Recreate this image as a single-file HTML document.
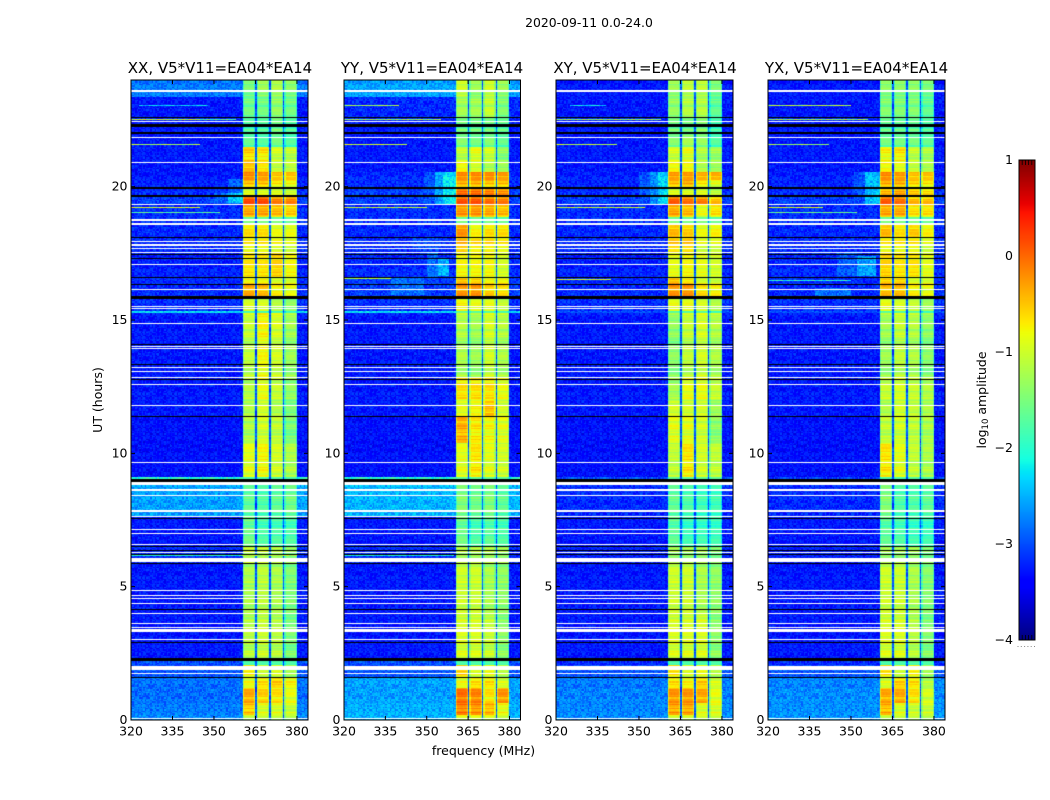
<!DOCTYPE html>
<html lang="en">
<head>
<meta charset="utf-8">
<title>2020-09-11 0.0-24.0</title>
<style>
html,body{margin:0;padding:0;background:#fff;width:1050px;height:800px;overflow:hidden}
#figure{position:relative;width:1050px;height:800px;font-family:"DejaVu Sans","Liberation Sans",sans-serif}
canvas{position:absolute;display:block}
svg{position:absolute;left:0;top:0}
text{font-family:"DejaVu Sans","Liberation Sans",sans-serif;fill:#000}
</style>
</head>
<body>
<div id="figure">
<canvas id="panel-0" style="left:131px;top:80px" width="177" height="640"></canvas>
<canvas id="panel-1" style="left:344px;top:80px" width="177" height="640"></canvas>
<canvas id="panel-2" style="left:556px;top:80px" width="177" height="640"></canvas>
<canvas id="panel-3" style="left:768px;top:80px" width="177" height="640"></canvas>
<canvas id="colorbar" style="left:1019px;top:160px" width="16" height="480"></canvas>
<svg id="overlay" width="1050" height="800" viewBox="0 0 1050 800">
  <text x="589" y="27" text-anchor="middle" font-size="12.4">2020-09-11 0.0-24.0</text>
  <text x="220" y="73" text-anchor="middle" font-size="15">XX, V5*V11=EA04*EA14</text>
  <text x="432" y="73" text-anchor="middle" font-size="15">YY, V5*V11=EA04*EA14</text>
  <text x="645" y="73" text-anchor="middle" font-size="15">XY, V5*V11=EA04*EA14</text>
  <text x="856.5" y="73" text-anchor="middle" font-size="15">YX, V5*V11=EA04*EA14</text>
  <text x="483.5" y="755" text-anchor="middle" font-size="12.5">frequency (MHz)</text>
  <text transform="translate(102 400) rotate(-90)" text-anchor="middle" font-size="12.5">UT (hours)</text>
  <text transform="translate(986 400) rotate(-90)" text-anchor="middle" font-size="12.5">log<tspan font-size="8.5" dy="2">10</tspan><tspan dy="-2"> amplitude</tspan></text>
</svg>
</div>
<script>
/* ---- axis data ---- */
const freqTicks = [320, 335, 350, 365, 380];
const hourTicks = [0, 5, 10, 15, 20];
const colorTicks = [1, 0, -1, -2, -3, -4];

/* start / end of each observing band, MHz; the gaps between them are notches */
const bandEdgesMHz = [[360.5, 365], [365.5, 370], [370.5, 375], [375.5, 380]];
const notchLevel = -3.0;
const bandShoulderDrop = 0.35;

/* time-block edges in UT hours, top of the panel downward */
const blockEdgesHours = [24, 23.36, 22.61, 21.94, 21.49, 20.93, 20.55, 20.25, 19.99, 19.65, 19.35, 18.83, 18.53, 18.11, 17.48, 16.61, 16.35, 15.86, 15.375, 15.26, 12.86, 12, 11.36, 10.39, 9.11, 8.93, 7.65, 6.49, 5.89, 4.01, 2.25, 2.03, 1.61, 1.2, 0.64, 0.19, 0];

/* log10 amplitude for each time block: [background, band1, band2, band3, band4] */
const xxLevels = [
[-2.8,-1.5,-1.3,-1.2,-1.4],[-3.3,-1.6,-1.6,-1.4,-1.6],[-3.3,-1.8,-1.8,-1.6,-1.8],[-3.3,-1.7,-1.8,-1.6,-1.8],
[-3.3,-0.6,-0.7,-1.0,-1.1],[-3.3,-0.5,-0.7,-1.1,-1.1],[-3.3,-0.2,-0.3,-0.5,-0.5],[-3.25,-0.5,-0.5,-0.7,-0.8],
[-3.2,-1.0,-1.0,-1.0,-1.1],[-3.1,0.1,0.1,-0.2,-0.2],[-3.2,-0.4,-0.4,-0.5,-0.6],[-3.2,-1.7,-1.7,-1.7,-1.8],
[-3.2,-0.7,-0.7,-0.9,-0.9],[-3.2,-0.7,-0.7,-0.8,-0.9],[-3.25,-0.7,-0.7,-0.6,-0.8],[-3.2,-0.7,-0.7,-0.9,-0.9],
[-3.2,-0.4,-0.5,-0.8,-0.9],[-3.2,-1.0,-1.0,-1.2,-1.4],[-2.3,-1.7,-1.7,-1.7,-1.8],[-3.3,-1.1,-0.8,-1.0,-1.3],
[-3.3,-1.2,-0.9,-1.1,-1.4],[-3.3,-1.2,-1.0,-1.2,-1.5],[-3.35,-1.2,-1.0,-1.1,-1.5],[-3.35,-0.9,-0.8,-1.0,-1.2],
[-2.0,-1.9,-1.9,-1.9,-1.9],[-2.6,-1.7,-1.8,-1.7,-1.6],[-3.3,-1.6,-1.8,-1.8,-1.8],[-3.2,-1.1,-1.1,-1.2,-1.4],
[-3.3,-1.25,-1.15,-1.25,-1.5],[-3.3,-1.15,-1.05,-1.15,-1.5],[-3.0,-1.9,-1.9,-1.9,-1.9],[-3.0,-0.8,-1.1,-1.0,-1.3],
[-2.85,-0.9,-0.7,-0.6,-0.8],[-2.85,-0.4,-0.6,-0.7,-0.9],[-2.8,-0.5,-0.9,-0.9,-1.0],[-2.7,-1.1,-1.1,-1.1,-1.2]];

const yyLevels = [
[-2.6,-1.0,-1.3,-1.0,-1.3],[-3.2,-1.3,-1.3,-1.1,-1.5],[-3.3,-1.6,-1.6,-1.6,-1.7],[-3.3,-1.5,-1.6,-1.5,-1.7],
[-3.3,-1.1,-0.9,-1.0,-1.4],[-3.3,-0.8,-1.0,-1.2,-1.3],[-3.2,-0.2,-0.2,-0.2,-0.3],[-3.2,-0.4,-0.4,-0.5,-0.5],
[-3.1,-0.1,-0.1,-0.2,-0.3],[-3.1,0.05,0.05,-0.1,-0.15],[-3.2,-0.3,-0.3,-0.4,-0.5],[-3.2,-1.7,-1.7,-1.7,-1.8],
[-3.2,-0.3,-0.8,-0.7,-0.7],[-3.2,-0.4,-0.6,-0.6,-0.7],[-3.2,-0.8,-0.8,-0.8,-1.0],[-3.1,-0.4,-0.5,-0.7,-0.7],
[-3.1,-0.3,-0.3,-0.6,-0.7],[-3.2,-0.8,-0.9,-0.9,-1.1],[-2.3,-1.5,-1.6,-1.6,-1.7],[-3.3,-1.2,-1.3,-1.0,-1.2],
[-3.3,-0.7,-0.7,-0.7,-0.9],[-3.3,-0.9,-0.8,-0.5,-1.0],[-3.35,-0.4,-0.7,-0.8,-0.9],[-3.35,-0.9,-0.7,-0.9,-1.0],
[-2.0,-1.8,-1.8,-1.8,-1.8],[-2.5,-1.5,-1.6,-1.5,-1.7],[-3.3,-1.6,-1.8,-1.7,-1.8],[-3.2,-1.2,-1.2,-1.2,-1.3],
[-3.3,-1.05,-1.05,-1.25,-1.4],[-3.3,-0.95,-0.95,-1.05,-1.4],[-3.0,-1.9,-1.9,-1.9,-1.9],[-3.0,-0.6,-1.0,-0.9,-1.2],
[-2.6,-0.9,-0.7,-0.7,-1.0],[-2.6,-0.1,-0.2,-0.7,-0.3],[-2.55,-0.1,-0.2,-0.4,-0.8],[-2.5,-0.9,-0.9,-0.9,-1.1]];

const xyLevels = [
[-3.3,-1.3,-1.1,-1.1,-1.5],[-3.3,-1.4,-1.2,-1.2,-1.7],[-3.3,-1.6,-1.6,-1.5,-1.9],[-3.3,-1.5,-1.3,-1.4,-1.8],
[-3.3,-1.0,-0.9,-1.2,-1.3],[-3.3,-0.8,-0.8,-1.2,-1.3],[-3.25,-0.3,-0.3,-0.4,-0.4],[-3.25,-0.5,-0.4,-0.7,-0.9],
[-3.2,-1.0,-1.0,-1.0,-1.2],[-3.1,0,-0.1,-0.2,-0.5],[-3.2,-0.4,-0.5,-0.9,-0.7],[-3.2,-1.7,-1.7,-1.7,-1.8],
[-3.2,-0.5,-0.6,-0.9,-0.8],[-3.2,-0.5,-0.5,-0.9,-0.9],[-3.25,-0.9,-0.8,-0.9,-1.0],[-3.2,-0.4,-0.6,-0.9,-1.0],
[-3.2,-0.3,-0.3,-0.7,-0.8],[-3.2,-0.9,-0.9,-1.0,-1.2],[-3.0,-1.6,-1.6,-1.6,-1.8],[-3.3,-1.4,-1.1,-1.0,-1.2],
[-3.3,-1.3,-0.9,-0.9,-1.1],[-3.3,-1.0,-1.0,-1.0,-1.3],[-3.35,-0.9,-0.9,-1.0,-1.4],[-3.35,-1.1,-0.7,-1.0,-1.1],
[-3.0,-1.8,-1.8,-1.8,-1.8],[-3.2,-1.7,-1.8,-1.9,-1.9],[-3.3,-1.7,-1.9,-1.9,-1.9],[-3.25,-1.3,-1.3,-1.3,-1.5],
[-3.3,-1.05,-1.05,-1.25,-1.4],[-3.3,-0.95,-0.95,-0.95,-1.4],[-3.2,-1.9,-1.9,-1.9,-1.9],[-3.0,-0.7,-1.0,-0.9,-1.2],
[-2.8,-0.7,-0.8,-0.6,-1.0],[-2.75,-0.3,-0.3,-0.4,-0.9],[-2.75,-0.3,-0.3,-0.9,-0.9],[-2.7,-1.0,-1.0,-1.0,-1.1]];

const yxLevels = [
[-3.3,-1.4,-1.4,-1.4,-1.5],[-3.3,-1.5,-1.5,-1.5,-1.7],[-3.3,-1.7,-1.7,-1.7,-1.8],[-3.3,-1.6,-1.6,-1.6,-1.7],
[-3.3,-0.8,-0.7,-1.1,-1.2],[-3.3,-0.8,-0.9,-1.1,-1.2],[-3.25,-0.2,-0.3,-0.5,-0.5],[-3.25,-0.4,-0.4,-0.6,-0.7],
[-3.2,-0.5,-0.4,-0.6,-0.7],[-3.1,0,-0.1,-0.5,-0.5],[-3.2,-0.4,-0.4,-0.7,-0.7],[-3.2,-1.7,-1.7,-1.7,-1.8],
[-3.2,-0.5,-0.7,-0.6,-0.8],[-3.2,-0.7,-0.7,-0.7,-0.9],[-3.2,-0.6,-0.7,-0.7,-0.9],[-3.2,-0.5,-0.5,-0.9,-0.9],
[-3.2,-0.5,-0.5,-0.8,-0.9],[-3.2,-0.9,-1.0,-1.1,-1.3],[-3.0,-1.6,-1.6,-1.6,-1.8],[-3.3,-1.3,-1.1,-1.2,-1.4],
[-3.3,-1.1,-1.0,-1.1,-1.2],[-3.3,-1.2,-1.0,-1.1,-1.2],[-3.35,-1.1,-1.0,-1.1,-1.2],[-3.35,-0.7,-0.9,-1.1,-1.2],
[-3.1,-1.9,-1.9,-1.9,-1.9],[-3.2,-1.5,-1.8,-1.8,-1.7],[-3.3,-1.7,-1.8,-1.9,-1.9],[-3.25,-1.3,-1.3,-1.3,-1.5],
[-3.3,-1.05,-1.05,-1.25,-1.45],[-3.3,-0.95,-0.95,-1.15,-1.45],[-3.2,-1.9,-1.9,-1.9,-1.9],[-3.0,-0.7,-1.1,-0.8,-1.3],
[-2.75,-1.0,-0.6,-0.7,-1.2],[-2.7,-0.4,-0.4,-0.7,-1.0],[-2.7,-0.4,-0.9,-1.0,-1.0],[-2.65,-1.1,-1.1,-1.1,-1.2]];

/* diffuse emission: [hour from, hour to, MHz from, MHz to, log10 amplitude] */
const xxBlobs = [[19.4, 19.75, 350, 355, -2.9], [19.4, 19.75, 355, 360.5, -2.4], [19.35, 20.3, 355, 360.5, -2.9]];
const yyBlobs = [[19.35, 20.55, 349, 353, -3.0], [19.35, 20.55, 353, 356, -2.6], [19.35, 20.55, 356, 360.5, -2.25], [17.6, 18.1, 345, 355, -3.05], [16.6, 17.5, 350, 354, -2.85], [16.65, 17.3, 354, 358, -2.5], [15.95, 16.6, 337, 349, -2.85]];
const xyBlobs = [[19.35, 20.55, 350, 354, -3.0], [19.35, 20.55, 354, 357, -2.7], [19.35, 20.55, 357, 360.5, -2.35]];
const yxBlobs = [[19.35, 20.55, 351, 355, -3.0], [19.35, 20.55, 355, 360.5, -2.45], [16.65, 17.5, 345, 352, -2.95], [16.65, 17.4, 352, 359, -2.6], [15.85, 16.2, 337, 350, -2.85]];

/* narrow-band interference: [hour, MHz from, MHz to, log10 amplitude] */
const xxRfi = [[23.06, 323, 348, -2.3], [22.54, 320, 345, -1.0], [22.54, 345, 358, -1.7], [21.6, 320, 345, -1.2], [19.24, 320, 345, -1.0], [19.05, 320, 352, -1.7], [6.2, 320, 360, -2.1], [6.19, 360, 380, -1.2]];
const yyRfi = [[23.06, 320, 340, -1.2], [22.54, 320, 355, -1.3], [21.6, 320, 343, -1.0], [19.24, 320, 350, -1.1], [16.58, 320, 337, -1.2], [6.2, 320, 360, -2.2]];
const xyRfi = [[23.06, 325, 338, -2.2], [22.54, 320, 358, -1.3], [21.6, 320, 342, -1.1], [19.24, 320, 352, -1.1], [16.55, 320, 340, -1.0]];
const yxRfi = [[23.06, 320, 350, -1.1], [22.54, 320, 356, -1.3], [21.6, 320, 342, -1.3], [19.24, 320, 340, -1.0], [19.05, 320, 352, -1.6], [16.5, 320, 350, -2.0]];

/* flagged rows: [hour from, hour to] */
const whiteRows = [[23.55,23.625],[22.425,22.46],[21.825,21.86],[20.89,20.925],[19.31,19.35],[18.71,18.79],[18.56,18.64],[17.925,17.96],[17.775,17.85],[17.66,17.7],[17.51,17.55],[17.06,17.1],[16.125,16.16],[15.49,15.525],[15.41,15.45],[14.85,14.89],[13.99,14.025],[13.91,13.95],[13.2,13.24],[13.05,13.09],[12.825,12.86],[12.56,12.6],[11.775,11.81],[9.64,9.675],[8.81,8.925],[8.59,8.66],[8.4,8.44],[7.8,7.875],[7.61,7.65],[7.125,7.16],[6.975,7.01],[6.56,6.6],[6.26,6.3],[5.925,6.075],[4.84,4.875],[4.65,4.69],[4.54,4.575],[4.35,4.39],[3.975,4.01],[3.6,3.64],[3.45,3.49],[3.3,3.41],[3,3.04],[1.875,2.025],[1.725,1.76],[0.04,0.075]];
const blackRows = [[22.575,22.61],[22.24,22.35],[21.975,22.05],[19.91,19.99],[19.61,19.69],[18.075,18.11],[17.44,17.475],[17.29,17.325],[16.575,16.61],[16.31,16.35],[15.79,15.9],[14.06,14.1],[13.31,13.35],[12.75,12.79],[11.36,11.4],[8.925,9.04],[7.54,7.575],[6.49,6.525],[6.34,6.375],[6.19,6.225],[5.85,5.89],[4.125,4.16],[2.89,2.925],[2.21,2.325],[1.575,1.61]];

/* hand-typed speckle offsets giving the channel noise its grain (texture only) */
const speckle = [0.18,-0.22,0.05,0.27,-0.12,-0.3,0.14,0.02,-0.18,0.3,-0.06,0.1,-0.26,0.22,-0.02,0.16,-0.14,0.08,-0.28,0.24,0,-0.1,0.2];

/* ---- layout (not data) ---- */
const panels = [
  {name: 'xx', left: 131, width: 177, levels: xxLevels, blobs: xxBlobs, rfi: xxRfi},
  {name: 'yy', left: 344, width: 176.5, levels: yyLevels, blobs: yyBlobs, rfi: yyRfi},
  {name: 'xy', left: 556, width: 177, levels: xyLevels, blobs: xyBlobs, rfi: xyRfi},
  {name: 'yx', left: 768, width: 177, levels: yxLevels, blobs: yxBlobs, rfi: yxRfi}
];
const panelTop = 80, panelHeight = 640;
const freqMin = 320, freqMax = 384, hourMax = 24;
const cbLeft = 1019, cbTop = 160, cbWidth = 16, cbHeight = 480;
const SVGNS = 'http://www.w3.org/2000/svg';
const overlay = document.getElementById('overlay');

function lerpStops(stops, t) {
  for (let i = 1; i < stops.length; i++) {
    if (t <= stops[i][0]) {
      const a = stops[i - 1], b = stops[i];
      return a[1] + (b[1] - a[1]) * (t - a[0]) / (b[0] - a[0]);
    }
  }
  return stops[stops.length - 1][1];
}
const jetR = [[0,0],[0.35,0],[0.66,1],[0.89,1],[1,0.5]];
const jetG = [[0,0],[0.125,0],[0.375,1],[0.64,1],[0.91,0],[1,0]];
const jetB = [[0,0.5],[0.11,1],[0.34,1],[0.65,0],[1,0]];
function colorOf(logAmp) {
  const t = Math.min(1, Math.max(0, (logAmp + 4) / 5));
  const r = Math.round(255 * lerpStops(jetR, t));
  const g = Math.round(255 * lerpStops(jetG, t));
  const b = Math.round(255 * lerpStops(jetB, t));
  return 'rgb(' + r + ',' + g + ',' + b + ')';
}
function xScale(panel, mhz) { return (mhz - freqMin) * panel.width / (freqMax - freqMin); }
function yScale(hour) { return (hourMax - hour) * panelHeight / hourMax; }
function noiseAt(r, c) { return speckle[(c * c + 3 * r * r + c * r + c) % speckle.length]; }
function rippleAt(r) { return speckle[(r * r + r) % speckle.length]; }

function cellLevel(panel, hour, mhz) {
  let block = 0;
  while (block < blockEdgesHours.length - 2 && hour < blockEdgesHours[block + 1]) block++;
  const row = panel.levels[block];
  for (let b = 0; b < bandEdgesMHz.length; b++) {
    const lo = bandEdgesMHz[b][0], hi = bandEdgesMHz[b][1];
    if (mhz >= lo && mhz < hi) {
      const isEdge = mhz - lo < 0.5 || hi - mhz < 0.5;
      return {v: row[b + 1] - (isEdge ? bandShoulderDrop : 0), inBand: true};
    }
  }
  if (mhz >= bandEdgesMHz[0][0] && mhz < bandEdgesMHz[3][1]) return {v: notchLevel, inBand: false};
  let v = row[0];
  for (const blob of panel.blobs) {
    if (hour >= blob[0] && hour < blob[1] && mhz >= blob[2] && mhz < blob[3]) v = Math.max(v, blob[4]);
  }
  return {v: v, inBand: false};
}

function drawPanel(panel, idx) {
  const ctx = document.getElementById('panel-' + idx).getContext('2d');
  const rowHours = 0.05, chanMHz = 0.5;
  const nRows = Math.round(hourMax / rowHours), nChans = Math.round((freqMax - freqMin) / chanMHz);
  for (let r = 0; r < nRows; r++) {
    const hour = hourMax - (r + 0.5) * rowHours;
    const y0 = Math.round(yScale(hour + rowHours / 2)), y1 = Math.round(yScale(hour - rowHours / 2));
    for (let c = 0; c < nChans; c++) {
      const mhz = freqMin + (c + 0.5) * chanMHz;
      const cell = cellLevel(panel, hour, mhz);
      const x0 = Math.round(xScale(panel, freqMin + c * chanMHz)), x1 = Math.round(xScale(panel, freqMin + (c + 1) * chanMHz));
      const grain = cell.inBand ? noiseAt(r, c) * 0.15 + rippleAt(r) * 0.7 : noiseAt(r, c) * 0.85;
      ctx.fillStyle = colorOf(cell.v + grain);
      ctx.fillRect(x0, y0, x1 - x0, y1 - y0);
    }
  }
  for (const line of panel.rfi) {
    const y = Math.round(yScale(line[0]));
    for (let m = line[1]; m < line[2]; m += chanMHz) {
      const c = Math.round((m - freqMin) / chanMHz);
      const x0 = Math.round(xScale(panel, m)), x1 = Math.round(xScale(panel, m + chanMHz));
      ctx.fillStyle = colorOf(line[3] + noiseAt(y, c) * 1.1);
      ctx.fillRect(x0, y, x1 - x0, 1);
    }
  }
  ctx.fillStyle = '#000';
  for (const f of blackRows) {
    const y0 = Math.round(yScale(f[1])), y1 = Math.round(yScale(f[0]));
    ctx.fillRect(0, y0, 177, Math.max(1, y1 - y0));
  }
  ctx.fillStyle = '#fff';
  for (const f of whiteRows) {
    const y0 = Math.round(yScale(f[1])), y1 = Math.round(yScale(f[0]));
    ctx.fillRect(0, y0, 177, Math.max(1, y1 - y0));
  }
}

function addLine(x1, y1, x2, y2, width) {
  const ln = document.createElementNS(SVGNS, 'line');
  ln.setAttribute('x1', x1);
  ln.setAttribute('y1', y1);
  ln.setAttribute('x2', x2);
  ln.setAttribute('y2', y2);
  ln.setAttribute('stroke', '#000');
  ln.setAttribute('stroke-width', width);
  overlay.appendChild(ln);
  return ln;
}
function addText(x, y, anchor, label) {
  const t = document.createElementNS(SVGNS, 'text');
  t.setAttribute('x', x);
  t.setAttribute('y', y);
  t.setAttribute('text-anchor', anchor);
  t.setAttribute('font-size', '12.5');
  t.textContent = label;
  overlay.appendChild(t);
  return t;
}

function drawAxes(panel) {
  const L = panel.left, B = panelTop + panelHeight;
  const frame = document.createElementNS(SVGNS, 'rect');
  frame.setAttribute('x', L);
  frame.setAttribute('y', panelTop);
  frame.setAttribute('width', panel.width);
  frame.setAttribute('height', panelHeight);
  frame.setAttribute('fill', 'none');
  frame.setAttribute('stroke', '#000');
  frame.setAttribute('stroke-width', '1');
  
  
  overlay.appendChild(frame);
  for (const f of freqTicks) {
    const x = L + xScale(panel, f);
    const tb = addLine(x, B, x, B - 4, 1);
    
    
    const tt = addLine(x, panelTop, x, panelTop + 4, 1);
    
    
    const lab = addText(x, B + 15.5, 'middle', String(f));
    
    
  }
  for (const h of hourTicks) {
    const y = panelTop + yScale(h);
    const tl = addLine(L, y, L + 4, y, 1);
    
    
    const tr = addLine(L + panel.width, y, L + panel.width - 4, y, 1);
    
    
    const lab = addText(L - 3.5, y + 4, 'end', String(h));
    
    
  }
}

function drawColorbar() {
  const ctx = document.getElementById('colorbar').getContext('2d');
  const top = colorTicks[0], bottom = colorTicks[colorTicks.length - 1];
  for (let i = 0; i < cbHeight; i++) {
    ctx.fillStyle = colorOf(top - (top - bottom) * (i + 0.5) / cbHeight);
    ctx.fillRect(0, i, cbWidth, 1);
  }
  const frame = document.createElementNS(SVGNS, 'rect');
  frame.setAttribute('x', cbLeft);
  frame.setAttribute('y', cbTop);
  frame.setAttribute('width', cbWidth);
  frame.setAttribute('height', cbHeight);
  frame.setAttribute('fill', 'none');
  frame.setAttribute('stroke', '#000');
  frame.setAttribute('stroke-width', '1');
  
  
  overlay.appendChild(frame);
  for (const v of colorTicks) {
    const y = cbTop + (top - v) * cbHeight / (top - bottom);
    const lab = addText(cbLeft - 6, y + 4, 'end', v < 0 ? '\u2212' + Math.abs(v) : String(v));
    
    
  }
  for (let i = 1; i <= 4; i++) {
    const x = cbLeft + i * cbWidth / 5;
    const a = addLine(x, cbTop, x, cbTop + 5, 0.8);
    
    
    const b = addLine(x, cbTop + cbHeight, x, cbTop + cbHeight - 5, 0.8);
    
    
  }
  for (let i = 0; i <= 5; i++) {
    const dot = document.createElementNS(SVGNS, 'rect');
    dot.setAttribute('x', cbLeft - 1.5 + i * 3.3);
    dot.setAttribute('y', cbTop + cbHeight + 6);
    dot.setAttribute('width', 1);
    dot.setAttribute('height', 1);
    dot.setAttribute('fill', '#888');
    
    
    overlay.appendChild(dot);
  }
}

panels.forEach(drawPanel);
panels.forEach(drawAxes);
drawColorbar();
</script>
</body>
</html>
